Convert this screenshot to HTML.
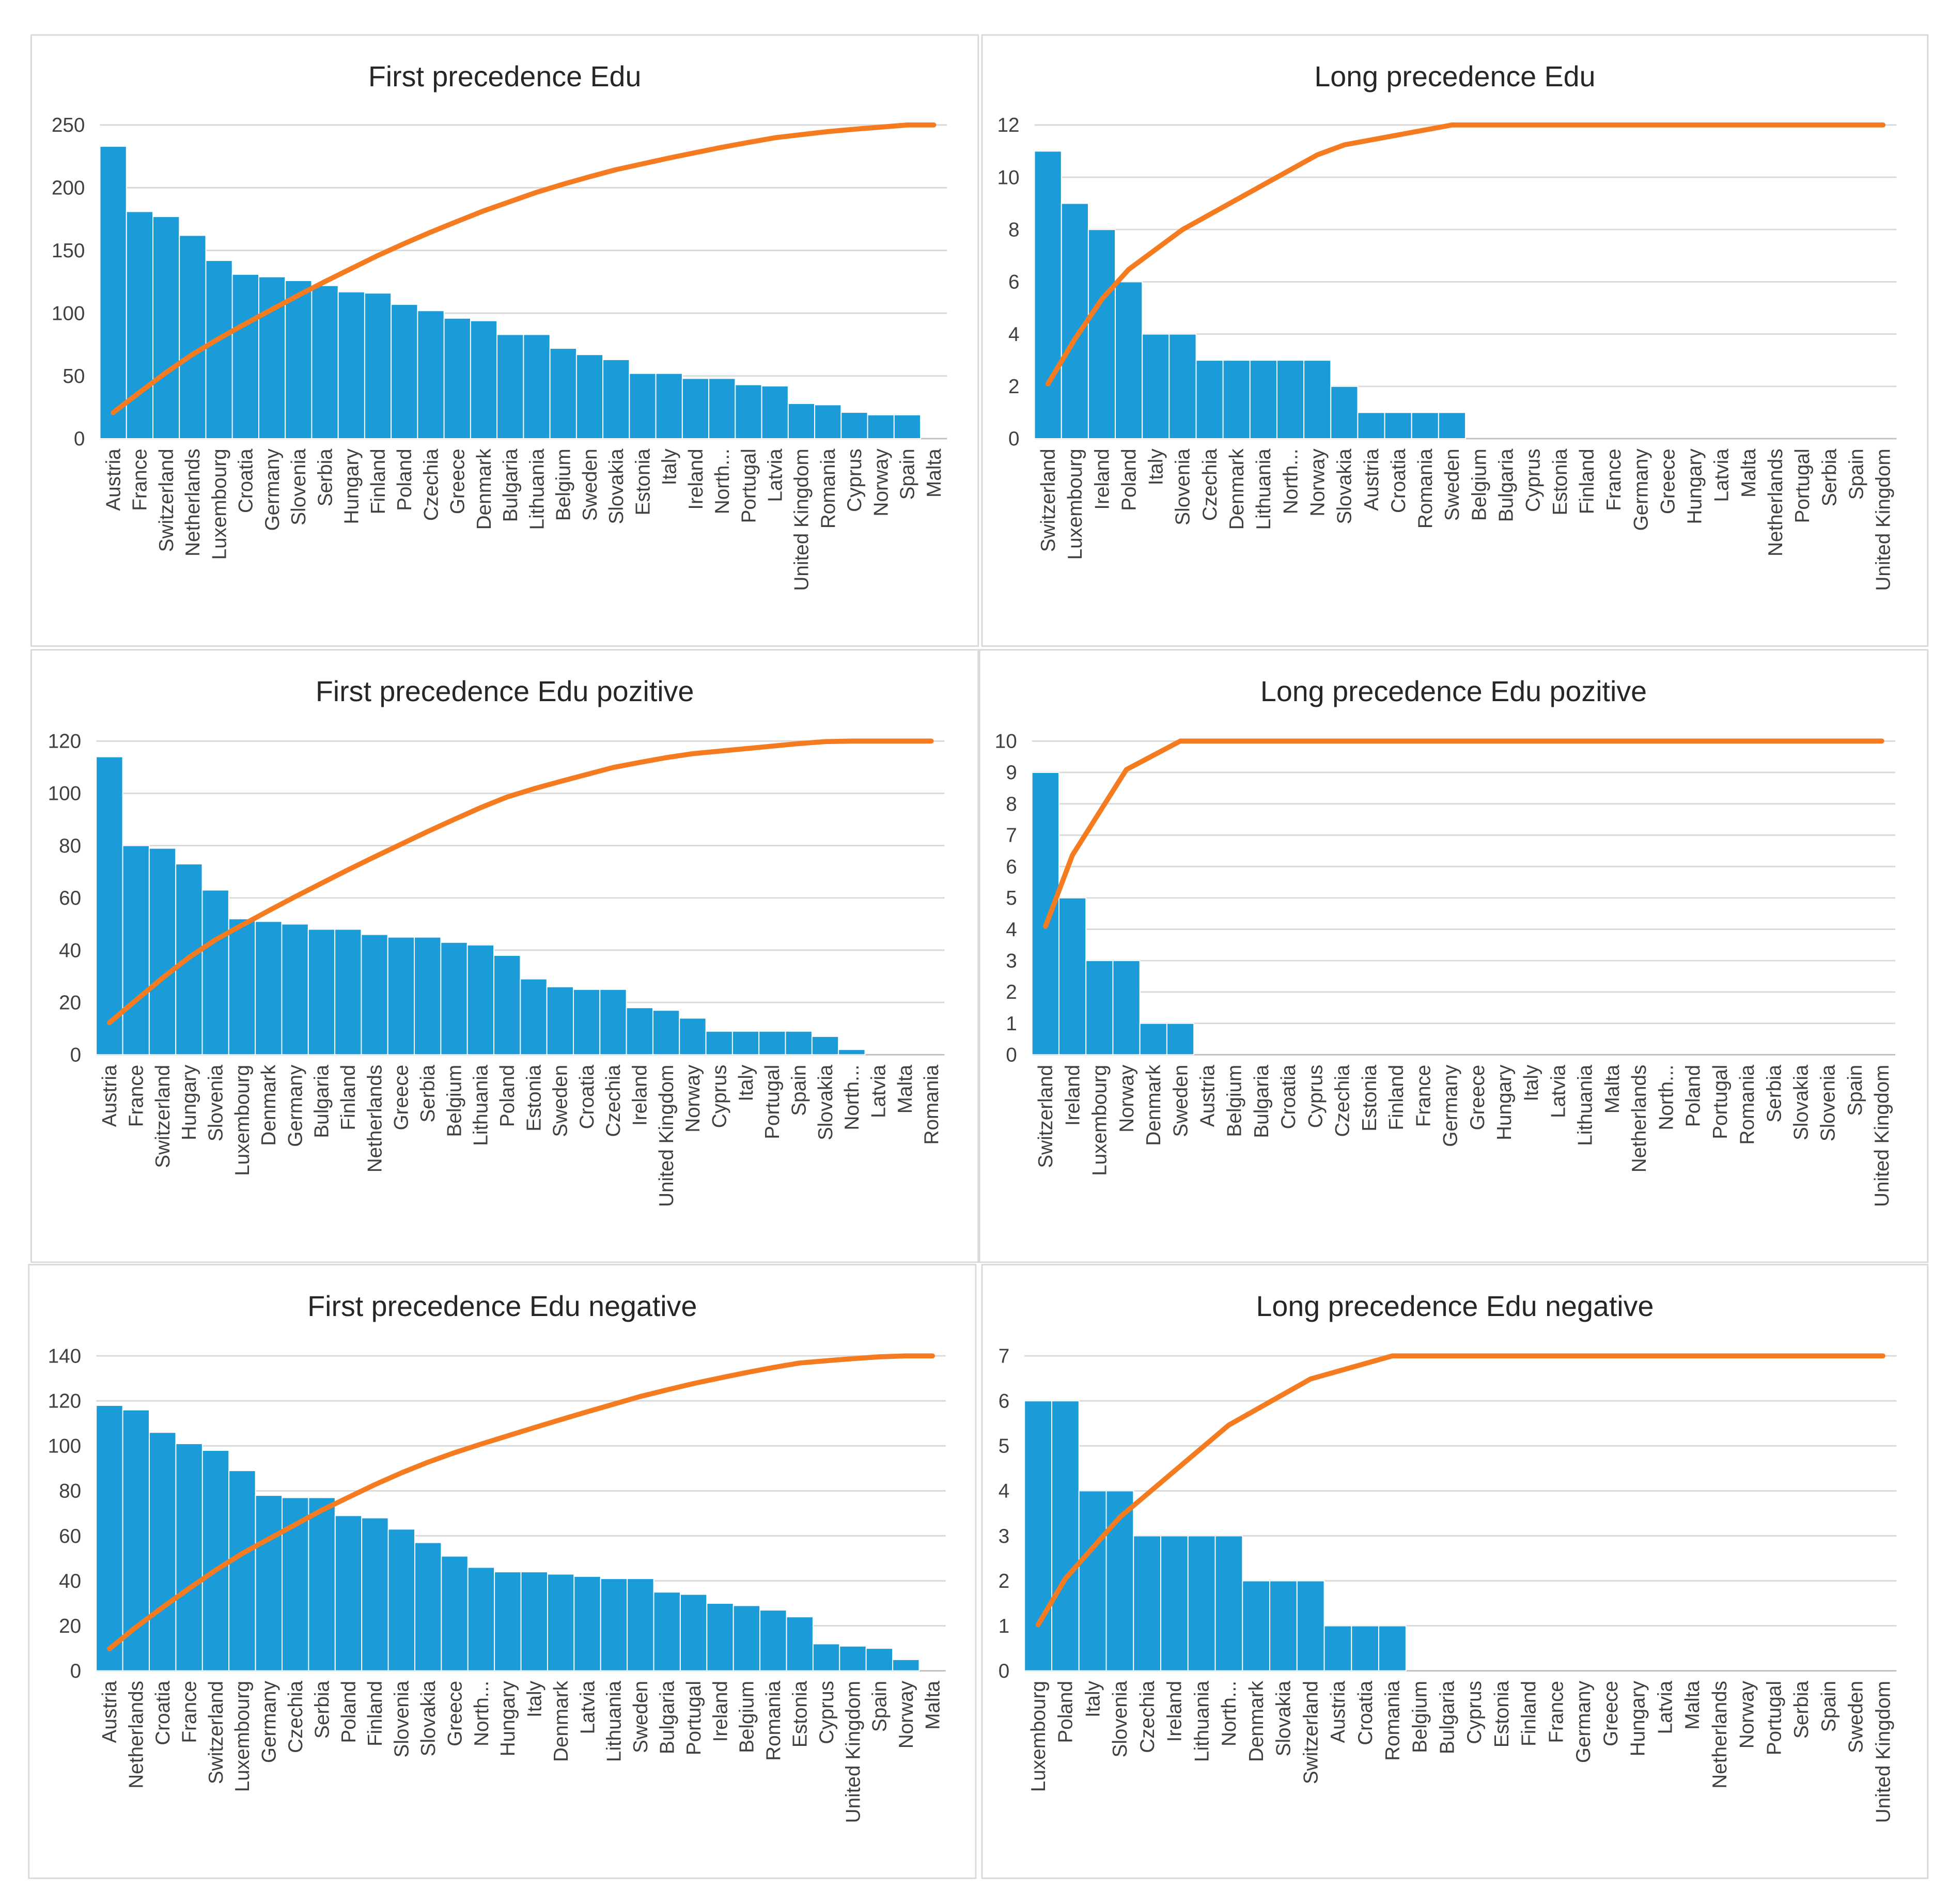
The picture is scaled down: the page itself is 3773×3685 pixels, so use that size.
<!DOCTYPE html>
<html><head><meta charset="utf-8"><style>
html,body{margin:0;padding:0;background:#fff}
svg{display:block}
text{font-family:"Liberation Sans",sans-serif;fill:#404040}
</style></head><body>
<svg id="root" width="3773" height="3685" viewBox="0 0 1560 1523.6" xmlns="http://www.w3.org/2000/svg"></svg>
<script>
// Chart 1
const c1Cats=["Austria","France","Switzerland","Netherlands","Luxembourg","Croatia","Germany","Slovenia","Serbia","Hungary","Finland","Poland","Czechia","Greece","Denmark","Bulgaria","Lithuania","Belgium","Sweden","Slovakia","Estonia","Italy","Ireland","North...","Portugal","Latvia","United Kingdom","Romania","Cyprus","Norway","Spain","Malta"];
const c1Vals=[233,181,177,162,142,131,129,126,122,117,116,107,102,96,94,83,83,72,67,63,52,52,48,48,43,42,28,27,21,19,19,0];
const c1Ticks=[0,50,100,150,200,250];
// Chart 2
const c2Cats=["Switzerland","Luxembourg","Ireland","Poland","Italy","Slovenia","Czechia","Denmark","Lithuania","North...","Norway","Slovakia","Austria","Croatia","Romania","Sweden","Belgium","Bulgaria","Cyprus","Estonia","Finland","France","Germany","Greece","Hungary","Latvia","Malta","Netherlands","Portugal","Serbia","Spain","United Kingdom"];
const c2Vals=[11,9,8,6,4,4,3,3,3,3,3,2,1,1,1,1,0,0,0,0,0,0,0,0,0,0,0,0,0,0,0,0];
const c2Ticks=[0,2,4,6,8,10,12];
// Chart 3
const c3Cats=["Austria","France","Switzerland","Hungary","Slovenia","Luxembourg","Denmark","Germany","Bulgaria","Finland","Netherlands","Greece","Serbia","Belgium","Lithuania","Poland","Estonia","Sweden","Croatia","Czechia","Ireland","United Kingdom","Norway","Cyprus","Italy","Portugal","Spain","Slovakia","North...","Latvia","Malta","Romania"];
const c3Vals=[114,80,79,73,63,52,51,50,48,48,46,45,45,43,42,38,29,26,25,25,18,17,14,9,9,9,9,7,2,0,0,0];
const c3Ticks=[0,20,40,60,80,100,120];
// Chart 4
const c4Cats=["Switzerland","Ireland","Luxembourg","Norway","Denmark","Sweden","Austria","Belgium","Bulgaria","Croatia","Cyprus","Czechia","Estonia","Finland","France","Germany","Greece","Hungary","Italy","Latvia","Lithuania","Malta","Netherlands","North...","Poland","Portugal","Romania","Serbia","Slovakia","Slovenia","Spain","United Kingdom"];
const c4Vals=[9,5,3,3,1,1,0,0,0,0,0,0,0,0,0,0,0,0,0,0,0,0,0,0,0,0,0,0,0,0,0,0];
const c4Ticks=[0,1,2,3,4,5,6,7,8,9,10];
// Chart 5
const c5Cats=["Austria","Netherlands","Croatia","France","Switzerland","Luxembourg","Germany","Czechia","Serbia","Poland","Finland","Slovenia","Slovakia","Greece","North...","Hungary","Italy","Denmark","Latvia","Lithuania","Sweden","Bulgaria","Portugal","Ireland","Belgium","Romania","Estonia","Cyprus","United Kingdom","Spain","Norway","Malta"];
const c5Vals=[118,116,106,101,98,89,78,77,77,69,68,63,57,51,46,44,44,43,42,41,41,35,34,30,29,27,24,12,11,10,5,0];
const c5Ticks=[0,20,40,60,80,100,120,140];
// Chart 6
const c6Cats=["Luxembourg","Poland","Italy","Slovenia","Czechia","Ireland","Lithuania","North...","Denmark","Slovakia","Switzerland","Austria","Croatia","Romania","Belgium","Bulgaria","Cyprus","Estonia","Finland","France","Germany","Greece","Hungary","Latvia","Malta","Netherlands","Norway","Portugal","Serbia","Spain","Sweden","United Kingdom"];
const c6Vals=[6,6,4,4,3,3,3,3,2,2,2,1,1,1,0,0,0,0,0,0,0,0,0,0,0,0,0,0,0,0,0,0];
const c6Ticks=[0,1,2,3,4,5,6,7];

const NS="http://www.w3.org/2000/svg";
const root=document.getElementById('root');
function mk(tag,attrs,parent){const e=document.createElementNS(NS,tag);for(const k in attrs)e.setAttribute(k,attrs[k]);(parent||root).appendChild(e);return e;}

function drawChart(id,title,cats,vals,ticks,box,plot){
  const g=mk('g',{});
  
  
  const frame=mk('rect',{x:box[0],y:box[1],width:box[2]-box[0],height:box[3]-box[1],fill:'#fff',stroke:'#d9d9d9','stroke-width':1.2},g);
  
  
  const t=mk('text',{x:(box[0]+box[2])/2,y:box[1]+41,'text-anchor':'middle','font-size':23,style:'fill:#262626'},g);
  t.textContent=title;
  
  
  const maxV=ticks[ticks.length-1];
  const yS=v=>plot.y1-(v/maxV)*(plot.y1-plot.y0);
  const n=cats.length, bw=(plot.x1-plot.x0)/n;
  const xS=i=>plot.x0+i*bw;
  ticks.forEach(tv=>{
    const ln=mk('line',{x1:plot.x0,x2:plot.x1,y1:yS(tv),y2:yS(tv),stroke:tv===0?'#bfbfbf':'#d9d9d9','stroke-width':1.2},g);
    
    
    const tl=mk('text',{x:plot.x0-12,y:yS(tv)+5.5,'text-anchor':'end','font-size':16},g);
    tl.textContent=tv;
    
    
  });
  vals.forEach((v,i)=>{
    if(v<=0)return;
    const r=mk('rect',{x:xS(i),y:yS(v),width:bw,height:yS(0)-yS(v),fill:'#1b9bd8',stroke:'#fff','stroke-width':0.8},g);
    
    
  });
  cats.forEach((c,i)=>{
    const cx=xS(i)+bw/2+5.5, cy=plot.y1+8;
    const tl=mk('text',{x:cx,y:cy,'text-anchor':'end','font-size':16,transform:`rotate(-90 ${cx} ${cy})`},g);
    tl.textContent=c;
    
    
  });
  const total=vals.reduce((a,b)=>a+b,0);
  let cum=0;const pts=[];
  vals.forEach((v,i)=>{cum+=v;pts.push([xS(i)+bw/2,yS(cum/total*maxV)]);});
  const pl=mk('polyline',{points:pts.map(p=>p.join(',')).join(' '),fill:'none',stroke:'#f47b20','stroke-width':4,'stroke-linejoin':'round','stroke-linecap':'round'},g);
  
  
}

drawChart('first-precedence-edu','First precedence  Edu',c1Cats,c1Vals,c1Ticks,[25,28,783,517],{x0:80,x1:758,y0:100,y1:351});
drawChart('long-precedence-edu','Long precedence  Edu',c2Cats,c2Vals,c2Ticks,[786,28,1543,517],{x0:828,x1:1518,y0:100,y1:351});
drawChart('first-precedence-edu-pozitive','First precedence  Edu pozitive',c3Cats,c3Vals,c3Ticks,[25,520,783,1010],{x0:77,x1:756,y0:593,y1:844});
drawChart('long-precedence-edu-pozitive','Long precedence  Edu pozitive',c4Cats,c4Vals,c4Ticks,[784,520,1543,1010],{x0:826,x1:1517,y0:593,y1:844});
drawChart('first-precedence-edu-negative','First precedence  Edu negative',c5Cats,c5Vals,c5Ticks,[23,1012,781,1503],{x0:77,x1:757,y0:1085,y1:1337});
drawChart('long-precedence-edu-negative','Long precedence  Edu negative',c6Cats,c6Vals,c6Ticks,[786,1012,1543,1503],{x0:820,x1:1518,y0:1085,y1:1337});
</script>
</body></html>
